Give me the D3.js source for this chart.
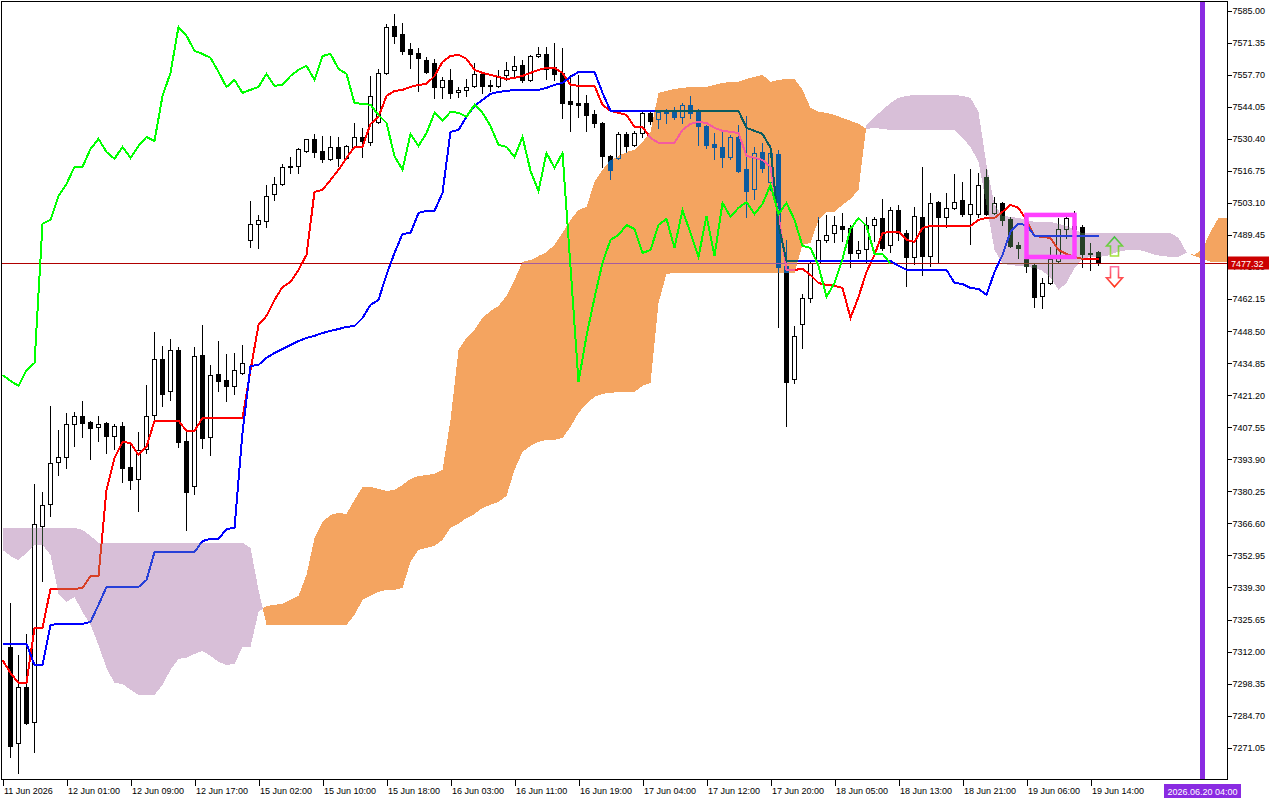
<!DOCTYPE html>
<html><head><meta charset="utf-8">
<script src="https://cdn.jsdelivr.net/npm/d3@7"></script>
<style>
html,body{margin:0;padding:0;background:#fff;}
svg{display:block;}
text{font-family:"Liberation Sans",Arial,sans-serif;font-size:9px;fill:#000;}
</style></head><body>
<svg id="c" width="1280" height="800"></svg>
<script>
// ---------- DATA ----------
const yTicks = [7585.00,7571.35,7557.70,7544.05,7530.40,7516.75,7503.10,7489.45,7475.80,7462.15,7448.50,7434.85,7421.20,7407.55,7393.90,7380.25,7366.60,7352.95,7339.30,7325.65,7312.00,7298.35,7284.70,7271.05];
const timeLabelBars = [-1,7,15,23,31,39,47,55,63,71,79,87,95,103,111,119,127,135];
const timeLabels = ["11 Jun 2026","12 Jun 01:00","12 Jun 09:00","12 Jun 17:00","15 Jun 02:00","15 Jun 10:00","15 Jun 18:00","16 Jun 03:00","16 Jun 11:00","16 Jun 19:00","17 Jun 04:00","17 Jun 12:00","17 Jun 20:00","18 Jun 05:00","18 Jun 13:00","18 Jun 21:00","19 Jun 06:00","19 Jun 14:00"];
const lastPrice = 7477.32;
const vlineBar = 149, vlineLabel = "2026.06.20 04:00";

// candles, bars 0..136
const open = [7314.0,7273.1,7296.9,7282.0,7365.5,7374.9,7392.8,7394.9,7409.0,7412.4,
7409.8,7407.7,7409.4,7403.9,7408.1,7390.7,7385.5,7398.3,7412.8,7436.7,
7423.0,7440.5,7401.7,7382.6,7438.4,7403.4,7430.3,7427.7,7425.2,7430.7,
7487.4,7494.2,7495.5,7506.9,7511.2,7518.9,7518.9,7525.3,7530.4,7525.3,
7521.9,7527.0,7522.3,7527.0,7531.2,7529.1,7537.6,7558.5,7578.5,7575.1,
7568.7,7567.0,7564.0,7562.8,7552.5,7555.5,7550.4,7551.3,7553.0,7558.1,
7553.0,7553.0,7557.7,7559.8,7561.9,7555.5,7565.7,7566.6,7561.1,7558.5,
7546.6,7545.7,7545.7,7541.0,7537.2,7523.1,7522.3,7532.5,7527.8,7532.9,
7541.5,7538.9,7542.3,7542.3,7539.8,7544.9,7542.3,7535.9,7528.3,7527.0,
7522.7,7531.2,7517.6,7509.1,7524.8,7512.1,7524.0,7476.3,7428.1,7451.6,
7462.7,7477.6,7487.4,7490.3,7493.3,7492.5,7481.8,7483.5,7493.7,7496.7,
7485.2,7500.1,7490.3,7480.1,7497.2,7480.5,7503.5,7497.2,7501.0,7504.4,
7498.4,7498.4,7514.2,7498.9,7503.1,7496.3,7485.2,7479.3,7476.7,7463.5,
7469.0,7478.4,7492.0,7492.0,7492.9,7481.8,7482.2];
const high = [7332.7,7310.6,7319.5,7383.4,7380.0,7416.6,7406.4,7413.7,7414.1,7418.8,
7410.3,7412.4,7409.8,7409.0,7409.8,7401.3,7405.6,7425.6,7448.2,7442.2,
7445.2,7441.8,7405.6,7441.8,7451.1,7434.1,7444.3,7438.8,7439.2,7442.6,
7504.0,7498.0,7510.8,7514.2,7519.7,7522.7,7526.6,7530.4,7532.5,7531.7,
7531.7,7531.2,7527.8,7537.2,7535.1,7557.2,7560.2,7579.4,7583.6,7579.8,
7571.3,7569.2,7565.3,7564.5,7556.8,7560.2,7552.5,7555.9,7562.8,7558.9,
7555.5,7559.8,7563.2,7565.7,7564.0,7566.2,7569.6,7569.6,7571.3,7569.2,
7557.7,7557.7,7549.1,7542.7,7537.6,7523.6,7533.4,7533.4,7533.8,7541.9,
7541.9,7542.3,7543.2,7544.0,7545.7,7548.7,7543.2,7536.4,7532.9,7533.4,
7532.1,7536.4,7540.2,7527.0,7528.7,7527.8,7525.7,7487.4,7450.7,7464.4,
7478.0,7497.2,7498.0,7497.6,7498.9,7493.7,7486.9,7497.2,7497.2,7504.8,
7501.4,7502.3,7491.6,7501.4,7518.5,7507.4,7504.0,7507.4,7515.5,7512.1,
7517.6,7515.9,7517.6,7505.7,7503.5,7497.2,7486.5,7482.2,7477.6,7471.2,
7484.4,7496.7,7498.9,7499.7,7493.7,7486.1,7482.7];
const low = [7267.1,7260.3,7281.2,7269.2,7342.1,7369.8,7387.2,7390.2,7399.6,7403.4,
7394.1,7401.7,7396.6,7398.3,7384.3,7381.3,7371.9,7396.6,7409.8,7416.6,
7419.2,7399.2,7363.8,7379.2,7398.8,7395.8,7423.0,7418.8,7421.8,7430.3,
7484.4,7484.0,7492.9,7504.4,7510.8,7515.9,7515.9,7524.8,7522.7,7520.6,
7521.4,7518.9,7521.9,7526.6,7522.7,7527.8,7537.2,7558.1,7571.3,7566.6,
7560.6,7550.8,7558.5,7547.9,7547.9,7547.9,7548.3,7548.7,7552.5,7550.0,
7550.8,7552.5,7555.5,7557.2,7554.7,7555.1,7565.3,7555.9,7555.5,7539.3,
7533.8,7539.8,7533.8,7535.5,7518.5,7513.3,7521.9,7524.8,7527.4,7531.2,
7536.8,7535.1,7537.2,7538.9,7537.2,7539.3,7527.8,7526.6,7521.9,7518.5,
7521.9,7516.3,7497.2,7504.8,7516.3,7508.7,7450.3,7408.1,7426.4,7441.4,
7460.9,7476.7,7486.5,7486.5,7486.9,7475.9,7479.7,7477.6,7486.9,7483.1,
7482.2,7487.4,7467.8,7477.1,7472.5,7476.3,7477.6,7492.9,7500.6,7497.6,
7485.7,7497.2,7498.0,7498.4,7493.7,7484.4,7479.7,7473.7,7458.8,7458.4,
7468.6,7478.0,7488.2,7487.4,7475.9,7474.6,7476.7];
const close = [7271.8,7296.9,7281.6,7366.4,7374.5,7392.4,7394.9,7409.0,7412.4,7409.4,
7407.3,7409.0,7403.9,7408.1,7390.2,7385.1,7397.9,7412.4,7436.7,7421.8,
7440.5,7401.3,7380.0,7437.9,7403.0,7429.8,7427.3,7425.2,7431.9,7434.9,
7494.2,7495.9,7506.1,7511.2,7518.5,7518.5,7526.1,7530.4,7524.8,7521.9,
7527.0,7522.3,7527.4,7531.2,7529.5,7548.7,7558.5,7578.1,7574.3,7567.9,
7566.6,7564.9,7558.9,7552.5,7555.5,7550.0,7551.3,7552.5,7558.1,7553.0,
7553.4,7557.2,7559.8,7561.5,7555.5,7565.7,7566.6,7560.2,7558.1,7545.7,
7545.3,7544.9,7540.6,7537.2,7523.1,7517.2,7532.5,7527.4,7532.9,7541.5,
7538.1,7541.9,7541.5,7539.8,7544.9,7541.5,7535.9,7527.8,7527.0,7522.7,
7531.2,7516.8,7508.2,7524.4,7518.0,7524.4,7475.9,7426.9,7446.5,7462.7,
7477.6,7487.4,7489.5,7493.7,7492.0,7481.8,7483.1,7493.7,7496.3,7484.0,
7500.1,7490.3,7480.1,7497.6,7480.5,7503.1,7497.2,7501.0,7503.5,7498.4,
7502.7,7510.8,7498.4,7503.1,7495.9,7484.8,7484.0,7476.3,7463.1,7469.0,
7479.3,7492.0,7496.7,7493.3,7481.4,7481.4,7477.32];

// Tenkan-sen / Kijun-sen, bars -1..136
const tenkan = [7308.4,7302.9,7298.6,7298.6,7322.1,7322.1,7338.7,7338.7,7338.7,7338.7,7339.1,
7344.2,7344.2,7380.9,7394.5,7401.3,7400.9,7395.8,7399.2,7410.3,7410.3,
7410.3,7410.3,7406.0,7406.0,7411.5,7411.5,7411.5,7411.5,7411.5,7411.5,
7431.9,7451.1,7455.0,7461.8,7467.3,7469.5,7474.6,7481.0,7507.8,7508.7,
7512.9,7517.2,7522.3,7527.0,7527.0,7536.8,7539.8,7548.7,7550.8,7551.3,
7552.5,7553.4,7553.8,7557.2,7563.2,7565.7,7566.2,7564.5,7559.8,7558.5,
7557.7,7556.8,7555.9,7556.4,7557.2,7558.5,7559.8,7560.6,7560.6,7558.5,
7553.4,7553.0,7553.0,7553.0,7544.9,7542.3,7541.5,7540.6,7535.5,7535.5,
7530.8,7528.7,7528.7,7528.7,7534.2,7536.8,7537.6,7537.2,7535.1,7533.8,
7533.4,7532.9,7523.1,7522.3,7521.4,7518.5,7498.0,7474.6,7474.6,7475.0,
7472.4,7469.0,7468.2,7467.8,7466.9,7454.1,7463.1,7473.7,7481.0,7490.3,
7490.8,7490.8,7487.4,7486.5,7492.5,7493.3,7493.3,7493.3,7493.3,7493.3,
7493.3,7495.9,7496.7,7496.7,7499.3,7502.3,7501.0,7495.9,7489.1,7488.6,
7488.2,7483.1,7481.4,7480.1,7479.3,7479.3,7479.3];
const kijun = [7315.3,7315.3,7315.3,7315.3,7306.3,7306.3,7323.3,7323.8,7323.8,7323.8,7323.8,
7324.6,7331.9,7339.5,7339.5,7339.5,7339.5,7339.5,7342.5,7354.4,7354.4,
7354.4,7354.4,7354.4,7354.4,7359.1,7360.0,7360.0,7364.2,7364.7,7405.2,
7433.7,7434.1,7437.1,7439.2,7440.9,7442.6,7444.3,7445.6,7446.5,7447.7,
7448.6,7449.4,7450.3,7450.7,7454.1,7459.7,7461.8,7472.5,7481.8,7489.9,
7490.3,7498.9,7499.7,7499.7,7507.4,7533.4,7534.2,7539.8,7544.4,7547.0,
7549.6,7550.4,7550.8,7551.3,7551.3,7551.3,7551.3,7552.1,7553.4,7554.2,
7556.8,7558.9,7558.9,7558.9,7550.0,7542.3,7542.3,7542.3,7542.3,7542.3,
7542.3,7542.3,7542.3,7542.3,7542.3,7542.3,7542.3,7542.3,7542.3,7542.3,
7542.3,7542.3,7535.1,7533.8,7532.5,7526.6,7493.7,7478.4,7478.4,7478.4,
7478.4,7478.4,7478.4,7478.4,7478.4,7478.4,7478.4,7478.4,7478.4,7478.4,
7478.4,7476.3,7474.6,7474.6,7474.6,7474.6,7474.6,7474.6,7469.0,7468.6,
7466.9,7466.5,7463.9,7473.7,7481.0,7490.8,7494.2,7493.7,7489.1,7489.1,
7489.1,7489.1,7489.1,7489.1,7489.1,7489.1,7489.1];

// Senkou Span A / B (already shifted forward), bars -1..152
const spanA = [7355.3,7352.7,7351.0,7354.0,7357.4,7357.4,7353.2,7336.6,7333.1,7335.3,7328.9,
7323.4,7314.8,7305.0,7298.6,7298.2,7295.7,7293.5,7293.5,7293.5,7297.8,
7304.2,7308.9,7309.3,7311.0,7312.3,7310.1,7307.6,7306.3,7306.7,7314.0,
7314.0,7328.9,7331.4,7331.9,7332.3,7334.0,7335.7,7344.7,7360.4,7367.2,
7370.2,7371.1,7370.6,7376.6,7382.1,7382.1,7381.3,7380.4,7380.9,7383.0,
7385.5,7386.8,7387.2,7387.7,7389.4,7410.7,7440.5,7445.6,7449.0,7454.1,
7457.1,7459.2,7463.5,7470.3,7478.0,7478.8,7480.5,7482.2,7485.2,7490.3,
7495.9,7500.1,7501.4,7512.1,7517.2,7521.4,7523.1,7524.8,7525.7,7529.1,
7533.4,7550.0,7550.8,7551.7,7552.1,7552.5,7552.5,7552.5,7553.4,7554.2,
7554.7,7554.7,7555.9,7556.8,7557.7,7554.7,7555.5,7555.9,7555.9,7551.3,
7543.6,7541.9,7541.5,7540.6,7539.3,7538.1,7536.8,7534.6,7535.1,7534.6,
7534.2,7534.2,7534.2,7534.2,7534.2,7534.2,7534.2,7534.2,7534.2,7530.8,
7527.0,7520.6,7502.3,7483.1,7477.1,7476.7,7476.3,7475.9,7475.4,7474.2,
7471.2,7466.1,7469.0,7475.4,7479.3,7480.1,7480.1,7480.5,7481.8,7482.7,
7483.1,7483.1,7482.2,7481.0,7480.5,7480.1,7480.1,7481.8,7481.0,7483.5,
7490.8,7496.7,7496.7];
const spanB = [7364.7,7364.7,7364.7,7364.7,7364.7,7364.7,7364.7,7364.7,7364.7,7364.7,7363.8,
7361.3,7358.3,7358.3,7358.3,7358.3,7358.3,7358.3,7358.3,7358.3,7358.3,
7358.3,7358.3,7358.3,7358.3,7358.3,7358.3,7358.3,7358.3,7358.3,7358.3,
7356.2,7338.3,7323.4,7323.4,7323.4,7323.4,7323.4,7323.4,7323.4,7323.4,
7323.4,7323.4,7323.4,7327.6,7334.0,7335.7,7337.4,7338.3,7338.3,7339.1,
7350.2,7355.3,7356.2,7357.0,7359.6,7364.7,7366.4,7368.9,7370.6,7373.2,
7374.5,7375.7,7378.3,7389.4,7397.0,7399.6,7401.3,7402.2,7402.2,7403.0,
7407.7,7413.7,7417.5,7420.5,7421.8,7422.2,7422.6,7422.6,7422.6,7425.2,
7426.4,7460.5,7472.9,7473.3,7473.3,7473.3,7473.3,7473.3,7473.3,7473.3,
7473.3,7473.3,7473.3,7473.3,7473.3,7473.3,7473.3,7473.3,7473.3,7485.2,
7486.1,7495.9,7499.3,7499.3,7502.3,7504.8,7508.7,7536.4,7539.8,7542.7,
7545.7,7547.9,7548.7,7549.1,7549.1,7549.1,7549.1,7549.1,7549.1,7548.7,
7547.9,7541.9,7519.3,7502.3,7497.6,7497.2,7496.7,7495.9,7495.0,7495.0,
7495.0,7494.2,7493.3,7491.6,7490.3,7490.3,7490.3,7490.3,7490.3,7490.3,
7490.3,7490.3,7490.3,7490.3,7490.3,7490.3,7488.2,7482.2,7480.5,7479.3,
7478.0,7478.0,7478.0];

// drawn objects
const boxBars = [127,133], boxPrices = [7498.0,7480.1];
const arrowBar = 138, arrowUpPrice = 7488.6, arrowDownPrice = 7475.9;

// ---------- CHART ----------
const W=1280,H=800, L=2, R=1227, T=2, B=779;
const svg=d3.select('#c');
svg.append('rect').attr('width',W).attr('height',H).attr('fill','#fff');
const x=d3.scaleLinear().domain([-1,152]).range([2.5,1226.5]);
const y=d3.scaleLinear().domain([7271.05,7585.00]).range([747.7,10.7]);

const defs=svg.append('defs');
defs.append('clipPath').attr('id','pc').append('rect').attr('x',L).attr('y',T).attr('width',R-L).attr('height',B-T);
const gu=defs.append('linearGradient').attr('id','gUp').attr('x1',0).attr('y1',0).attr('x2',0).attr('y2',1);
gu.append('stop').attr('offset','0%').attr('stop-color','#40c040');
gu.append('stop').attr('offset','100%').attr('stop-color','#a8e040');
const gd=defs.append('linearGradient').attr('id','gDn').attr('x1',0).attr('y1',0).attr('x2',0).attr('y2',1);
gd.append('stop').attr('offset','0%').attr('stop-color','#ff70a0');
gd.append('stop').attr('offset','100%').attr('stop-color','#ff3010');

const plot=svg.append('g').attr('clip-path','url(#pc)');
plot.append('rect').attr('x',0).attr('y',0).attr('width',W).attr('height',H).attr('fill','#fff');

// candles
const bars=d3.range(0,close.length);
const cg=plot.append('g').attr('shape-rendering','crispEdges');
bars.forEach(i=>{
  const cx=Math.round(x(i)-0.5)+0.5;
  cg.append('line').attr('x1',cx).attr('x2',cx).attr('y1',Math.round(y(high[i]))).attr('y2',Math.round(y(low[i]))+1).attr('stroke','#000');
  const top=Math.round(y(Math.max(open[i],close[i]))), bot=Math.round(y(Math.min(open[i],close[i])));
  const bull=close[i]>open[i];
  if(bull){
    cg.append('rect').attr('x',cx-2).attr('y',top+0.5).attr('width',4).attr('height',Math.max(bot-top,1)).attr('fill','#fff').attr('stroke','#000');
  } else {
    cg.append('rect').attr('x',cx-2.5).attr('y',top).attr('width',5).attr('height',Math.max(bot-top+1,1)).attr('fill','#000');
  }
});

// bid line
const yp=Math.round(y(lastPrice))+0.5;
plot.append('line').attr('x1',L).attr('x2',R).attr('y1',yp).attr('y2',yp).attr('stroke','#b00000').attr('stroke-width',1).attr('shape-rendering','crispEdges');

// tenkan / kijun
const lineBars=d3.range(-1,close.length);
const ln=d3.line().x(d=>x(d[0])).y(d=>y(d[1]));
plot.append('path').attr('d',ln(lineBars.map((b,i)=>[b,tenkan[i]]))).attr('fill','none').attr('stroke','#ff0000').attr('stroke-width',2).attr('shape-rendering','crispEdges');
plot.append('path').attr('d',ln(lineBars.map((b,i)=>[b,kijun[i]]))).attr('fill','none').attr('stroke','#0000ff').attr('stroke-width',2).attr('shape-rendering','crispEdges');

// cloud (drawn in inverse colour with difference blending => MT5 xor look)
const cloudBars=d3.range(-1,153);
const runs=[]; let cur=null;
cloudBars.forEach((b,i)=>{
  const a=spanA[i], s=spanB[i], sg=a>=s?1:-1;
  if(!cur){cur={sg,pts:[[b,a,s]]};return;}
  if(sg!==cur.sg){
    const pb=cloudBars[i-1], pa=spanA[i-1], ps=spanB[i-1];
    const d0=pa-ps, d1=a-s, t=d0/(d0-d1);
    const cb=pb+t*(b-pb), cv=pa+t*(a-pa);
    cur.pts.push([cb,cv,cv]); runs.push(cur);
    cur={sg,pts:[[cb,cv,cv],[b,a,s]]};
  } else cur.pts.push([b,a,s]);
});
runs.push(cur);
function runPath(r){
  const up=r.pts.map(p=>[x(p[0]),y(p[1])]);
  const dn=r.pts.slice().reverse().map(p=>[x(p[0]),y(p[2])]);
  return 'M'+up.concat(dn).map(p=>p[0].toFixed(2)+','+p[1].toFixed(2)).join('L')+'Z';
}
const upD=runs.filter(r=>r.sg>0).map(runPath).join('');
const dnD=runs.filter(r=>r.sg<0).map(runPath).join('');
plot.append('path').attr('d',upD).attr('fill','#0b5b9f').style('mix-blend-mode','difference').attr('shape-rendering','crispEdges');
plot.append('path').attr('d',dnD).attr('fill','#274027').style('mix-blend-mode','difference').attr('shape-rendering','crispEdges');

// chikou span (close plotted 26 bars back)
const chBars=d3.range(-1,close.length-26);
plot.append('path').attr('d',ln(chBars.map(b=>[b,close[b+26]]))).attr('fill','none').attr('stroke','#00ff00').attr('stroke-width',2).attr('shape-rendering','crispEdges');

// rectangle object
plot.append('rect').attr('x',x(boxBars[0])).attr('y',y(boxPrices[0])).attr('width',x(boxBars[1])-x(boxBars[0])).attr('height',y(boxPrices[1])-y(boxPrices[0]))
  .attr('fill','none').attr('stroke','#ff40ff').attr('stroke-width',4.5);

// arrows
const ax=x(arrowBar), ua=y(arrowUpPrice), da=y(arrowDownPrice);
plot.append('path').attr('d',`M${ax},${ua}L${ax+8},${ua+9}L${ax+4},${ua+9}L${ax+4},${ua+19}L${ax-4},${ua+19}L${ax-4},${ua+9}L${ax-8},${ua+9}Z`)
  .attr('fill','none').attr('stroke','url(#gUp)').attr('stroke-width',1.6);
plot.append('path').attr('d',`M${ax-4},${da}L${ax+4},${da}L${ax+4},${da+11}L${ax+8},${da+11}L${ax},${da+20}L${ax-8},${da+11}L${ax-4},${da+11}Z`)
  .attr('fill','none').attr('stroke','url(#gDn)').attr('stroke-width',1.6);

// vertical line
plot.append('rect').attr('x',x(vlineBar)-2.5).attr('y',T).attr('width',5).attr('height',B-T).attr('fill','#8a2be2');

// frame
svg.append('rect').attr('x',L-0.5).attr('y',T-0.5).attr('width',R-L+1).attr('height',B-T+1).attr('fill','none').attr('stroke','#000').attr('shape-rendering','crispEdges');

// right axis
const ay=svg.append('g').attr('transform',`translate(${R+0.5},0)`)
  .call(d3.axisRight(y).tickValues(yTicks).tickFormat(d3.format('.2f')).tickSize(4).tickPadding(1));
ay.select('.domain').remove();
ay.selectAll('text').style('font-family','"Liberation Sans",Arial,sans-serif').style('font-size','9px').attr('fill','#000');
ay.selectAll('line').attr('shape-rendering','crispEdges');

// bottom axis
const xb=svg.append('g').attr('transform',`translate(0,${B+0.5})`)
  .call(d3.axisBottom(x).tickValues(timeLabelBars).tickFormat((d,i)=>timeLabels[i]).tickSize(6).tickPadding(2));
xb.select('.domain').remove();
xb.selectAll('text').attr('text-anchor','start').attr('dx','1').style('font-family','"Liberation Sans",Arial,sans-serif').style('font-size','9px').attr('fill','#000');
xb.selectAll('line').attr('shape-rendering','crispEdges');

// last price label
svg.append('rect').attr('x',R+1).attr('y',yp-7).attr('width',41).attr('height',13).attr('fill','#cc0000');
svg.append('text').attr('x',R+4).attr('y',yp+3).text(d3.format('.2f')(lastPrice)).style('fill','#fff');

// vertical line time label
const vx=x(vlineBar);
svg.append('rect').attr('x',vx-38.5).attr('y',784).attr('width',77).attr('height',14).attr('fill','#8a2be2');
svg.append('text').attr('x',vx).attr('y',794.5).attr('text-anchor','middle').text(vlineLabel).style('fill','#fff');
</script>
</body></html>
